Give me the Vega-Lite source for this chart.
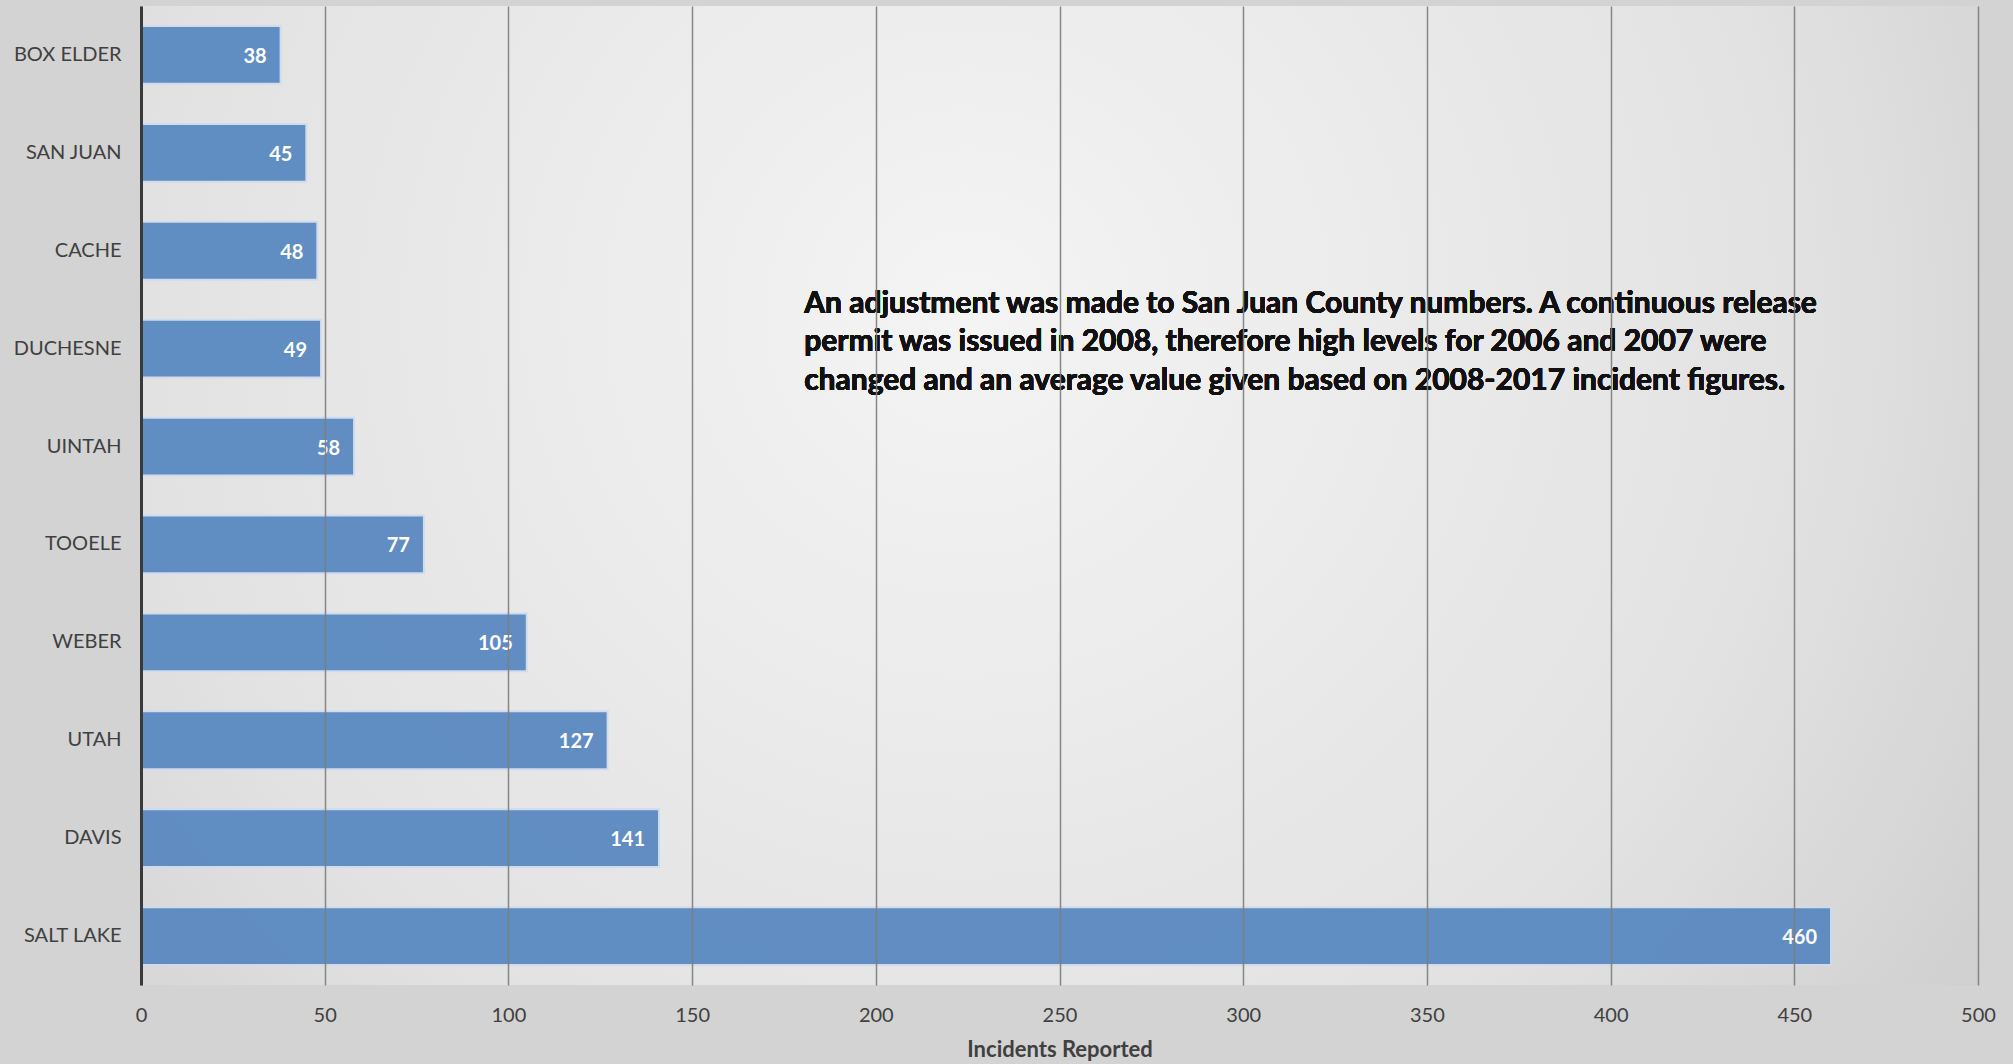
{
  "$schema": "https://vega.github.io/schema/vega-lite/v6.json",
  "autosize": {"type": "none"},
  "width": 1837,
  "height": 979,
  "padding": {"left": 141, "top": 6, "right": 35, "bottom": 79},
  "background": "#d3d3d3",
  "config": {
    "view": {"stroke": null},
    "font": "Lato"
  },
  "data": {
    "values": [
      {"county": "BOX ELDER", "incidents": 38},
      {"county": "SAN JUAN", "incidents": 45},
      {"county": "CACHE", "incidents": 48},
      {"county": "DUCHESNE", "incidents": 49},
      {"county": "UINTAH", "incidents": 58},
      {"county": "TOOELE", "incidents": 77},
      {"county": "WEBER", "incidents": 105},
      {"county": "UTAH", "incidents": 127},
      {"county": "DAVIS", "incidents": 141},
      {"county": "SALT LAKE", "incidents": 460}
    ]
  },
  "layer": [
    {
      "mark": {
        "type": "rect",
        "color": {
          "gradient": "radial",
          "x1": 0.45, "y1": 0.4, "x2": 0.45, "y2": 0.4,
          "r1": 0, "r2": 0.75,
          "stops": [
            {"offset": 0, "color": "#f4f4f4"},
            {"offset": 0.6, "color": "#e2e2e2"},
            {"offset": 1, "color": "#c8c8c8"}
          ]
        }
      },
      "encoding": {
        "x": {"datum": 0, "type": "quantitative", "scale": {"domain": [0, 500]}},
        "x2": {"datum": 500}
      }
    },
    {
      "mark": {"type": "bar", "color": "#5787c0", "opacity": 0.93, "stroke": "#cfdcee", "strokeWidth": 2},
      "encoding": {
        "y": {
          "field": "county", "type": "nominal",
          "scale": {
            "domain": ["BOX ELDER", "SAN JUAN", "CACHE", "DUCHESNE", "UINTAH", "TOOELE", "WEBER", "UTAH", "DAVIS", "SALT LAKE"],
            "paddingInner": 0.41, "paddingOuter": 0.205
          },
          "axis": {
            "title": null, "ticks": false, "domainColor": "#3a3a3a", "domainWidth": 3, "zindex": 1,
            "labelFontSize": 20, "labelColor": "#404040", "labelPadding": 20, "labelFont": "Lato"
          }
        },
        "x": {
          "field": "incidents", "type": "quantitative",
          "scale": {"domain": [0, 500], "nice": false},
          "axis": {
            "values": [0, 50, 100, 150, 200, 250, 300, 350, 400, 450, 500],
            "title": "Incidents Reported", "titleFontSize": 22, "titleFontWeight": "bold",
            "titleColor": "#404040", "titlePadding": 14, "titleFont": "Lato",
            "domain": false, "ticks": false, "grid": true, "gridColor": "#7c7c7c", "gridWidth": 1.5,
            "gridOpacity": 0.9, "zindex": 1, "labelFlush": false,
            "labelFontSize": 20, "labelColor": "#404040", "labelPadding": 20, "labelFont": "Lato"
          }
        }
      }
    },
    {
      "mark": {"type": "text", "align": "right", "baseline": "middle", "dx": -14, "dy": 2, "color": "white", "fontWeight": "bold", "fontSize": 20, "font": "Lato"},
      "encoding": {
        "y": {"field": "county", "type": "nominal"},
        "x": {"field": "incidents", "type": "quantitative"},
        "text": {"field": "incidents", "type": "quantitative"}
      }
    },
    {
      "mark": {
        "type": "text", "align": "left", "baseline": "middle", "lineHeight": 38.5, "dy": -45,
        "fontSize": 30, "fontWeight": "bold", "color": "#111111", "font": "Lato",
        "text": [
          "An adjustment was made to San Juan County numbers. A continuous release",
          "permit was issued in 2008, therefore high levels for 2006 and 2007 were",
          "changed and an average value given based on 2008-2017 incident figures."
        ]
      },
      "encoding": {
        "x": {"datum": 180.5, "type": "quantitative"},
        "y": {"datum": "DUCHESNE", "type": "nominal"}
      }
    }
  ]
}
